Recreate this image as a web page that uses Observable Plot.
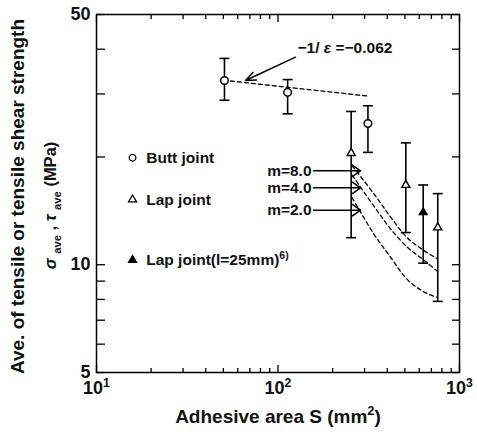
<!DOCTYPE html>
<html><head><meta charset="utf-8">
<script src="https://cdn.jsdelivr.net/npm/d3@7"></script>
<script src="https://cdn.jsdelivr.net/npm/@observablehq/plot@0.6"></script>
<style>
body{margin:0;background:#fff;}
#chart svg{font-family:"Liberation Sans",Arial,sans-serif;font-weight:bold;}
</style></head><body><div id="chart"></div>
<script>
// Butt joint (open circles)
const buttS = [50.7, 113, 313];
const buttMean = [32.7, 30.3, 24.8];
const buttLow = [28.8, 26.4, 20.6];
const buttHigh = [37.7, 32.9, 27.8];
// Lap joint (open triangles)
const lapS = [253, 506, 759];
const lapMean = [20.5, 16.7, 12.7];
const lapLow = [11.9, 12.3, 7.9];
const lapHigh = [26.8, 21.9, 15.8];
// Lap joint l=25mm (filled triangle)
const lap25S = [631];
const lap25Mean = [14.0];
const lap25Low = [10.1];
const lap25High = [16.7];
// fitted line for butt joints (slope -1/eps = -0.062)
const fitS = [54.7, 310];
const fitY = [32.6, 29.6];
// predicted curves for lap joints
const curveS = [256, 337, 417, 515, 636, 754];
const curveM8 = [18.9, 15.8, 13.6, 11.9, 10.96, 10.4];
const curveM4 = [17.8, 14.6, 12.6, 11.2, 10.3, 9.6];
const curveM2 = [15.4, 12.2, 10.5, 9.1, 8.4, 8.1];
const mLabels = ["m=8.0", "m=4.0", "m=2.0"];
const mLabelY = [18.3, 16.4, 14.2];
// ticks
const xTickValues = [10, 100, 1000];
const xTickLabels = ["10^{1}", "10^{2}", "10^{3}"];
const xMinorTicks = [20, 30, 40, 50, 60, 70, 80, 90, 200, 300, 400, 500, 600, 700, 800, 900];
const yTickValues = [5, 10, 50];
const yTickLabels = ["5", "10", "50"];
const yAllTicks = [5, 6, 7, 8, 9, 10, 20, 30, 40, 50];
// legend
const legendLabels = ["Butt joint", "Lap joint", "Lap joint(l=25mm)^{6)}"];
const legendY = [19.9, 15.2, 10.3];
const legendSymbolX = 15.8, legendTextX = 18.8;
// annotation
const annText = "\u22121/ ~{\u03b5} =\u22120.062";

const pts = (S, M, L, H) => S.map((s, i) => ({s, m: M[i], lo: L[i], hi: H[i]}));
const butt = pts(buttS, buttMean, buttLow, buttHigh);
const lap = pts(lapS, lapMean, lapLow, lapHigh);
const lap25 = pts(lap25S, lap25Mean, lap25Low, lap25High);
const all = [...butt, ...lap, ...lap25];
const fit = fitS.map((s, i) => ({s, y: fitY[i]}));
const curves = [["m8", curveM8], ["m4", curveM4], ["m2", curveM2]]
  .flatMap(([k, ys]) => curveS.map((s, i) => ({k, s, y: ys[i]})));
const mArr = mLabels.map((t, i) => ({t, y: mLabelY[i], x1: 157, x2: 285}));
const legend = legendLabels.map((t, i) => ({t, y: legendY[i], i}));

const cap = {draw(ctx, size) { const w = Math.sqrt(size / Math.PI); ctx.moveTo(-w, 0); ctx.lineTo(w, 0); }};
const fmtX = d => xTickLabels[xTickValues.indexOf(d)];
const fmtY = d => yTickLabels[yTickValues.indexOf(d)];

const chart = Plot.plot({
  width: 477, height: 438,
  marginLeft: 96, marginRight: 18, marginTop: 14, marginBottom: 66,
  x: {type: "log", domain: [10, 1000]},
  y: {type: "log", domain: [5, 50]},
  style: {fontFamily: "'Liberation Sans', Arial, sans-serif", fontWeight: "bold", background: "#fff"},
  marks: [
    // ticks (inward)
    Plot.axisX({anchor: "bottom", ticks: xMinorTicks, tickSize: -4, tickFormat: () => "", label: null, strokeWidth: 1.3}),
    Plot.axisX({anchor: "top", ticks: xMinorTicks, tickSize: -4, tickFormat: () => "", label: null, strokeWidth: 1.3}),
    Plot.axisX({anchor: "bottom", ticks: xTickValues, tickSize: -7, tickFormat: () => "", label: null, strokeWidth: 1.3}),
    Plot.axisX({anchor: "top", ticks: xTickValues, tickSize: -7, tickFormat: () => "", label: null, strokeWidth: 1.3}),
    Plot.axisY({anchor: "left", ticks: yAllTicks, tickSize: -9, tickFormat: () => "", label: null, strokeWidth: 1.3}),
    Plot.axisY({anchor: "right", ticks: yAllTicks, tickSize: -8, tickFormat: () => "", label: null, strokeWidth: 1.3}),
    // tick labels
    Plot.axisX({anchor: "bottom", ticks: xTickValues, tickSize: 0, tickPadding: 9, tickFormat: fmtX, label: null, fontSize: 18, fill: "#111"}),
    Plot.axisY({anchor: "left", ticks: yTickValues, tickSize: 0, tickPadding: 6, tickFormat: fmtY, label: null, fontSize: 18, fill: "#111"}),
    Plot.frame({strokeWidth: 1.5}),
    // axis titles
    Plot.text(["Adhesive area S (mm^{2})"], {frameAnchor: "bottom", dy: 50, fontSize: 19, text: d => d, fill: "#111"}),
    Plot.text(["Ave. of tensile or tensile shear strength"], {frameAnchor: "left", textAnchor: "middle", dx: -79, dy: 3, rotate: -90, fontSize: 19, text: d => d, fill: "#111"}),
    Plot.text(["~{\u03c3} _{ave} , ~{\u03c4} _{ave} (MPa)"], {frameAnchor: "left", textAnchor: "middle", dx: -46, dy: 12, rotate: -90, fontSize: 16.5, text: d => d, fill: "#111"}),
    // error bars
    Plot.ruleX(all, {x: "s", y1: "lo", y2: "hi", strokeWidth: 1.6}),
    Plot.dot(all, {x: "s", y: "lo", symbol: cap, r: 5, stroke: "black", fill: "none", strokeWidth: 1.6}),
    Plot.dot(all, {x: "s", y: "hi", symbol: cap, r: 5, stroke: "black", fill: "none", strokeWidth: 1.6}),
    // dashed lines
    Plot.line(fit, {x: "s", y: "y", strokeDasharray: "4,3", strokeWidth: 1.3}),
    Plot.line(curves, {x: "s", y: "y", z: "k", curve: "catmull-rom", strokeDasharray: "4,3", strokeWidth: 1.3}),
    // symbols
    Plot.dot(butt, {x: "s", y: "m", r: 3.8, stroke: "black", fill: "white", strokeWidth: 1.5}),
    Plot.dot(lap, {x: "s", y: "m", symbol: "triangle", r: 3, stroke: "black", fill: "white", strokeWidth: 1.4}),
    Plot.dot(lap25, {x: "s", y: "m", symbol: "triangle", r: 3, stroke: "black", fill: "black", strokeWidth: 1.2}),
    // m arrows and labels
    Plot.arrow(mArr, {x1: "x1", x2: "x2", y1: "y", y2: "y", headLength: 10, headAngle: 70, strokeWidth: 1.5}),
    Plot.text(mArr, {x: "x1", y: "y", text: "t", textAnchor: "end", dx: -2, fontSize: 15.5, fill: "#111"}),
    // annotation
    Plot.arrow([0], {x1: 124.8, y1: 38.0, x2: 66.2, y2: 32.7, headLength: 11, headAngle: 45, strokeWidth: 1.5}),
    Plot.text([annText], {x: 128, y: 40.2, text: d => d, textAnchor: "start", fontSize: 15.5, fill: "#111"}),
    // legend
    Plot.dot(legend, {x: legendSymbolX, y: "y", r: d => d.i === 0 ? 3.3 : 2.7, symbol: d => d.i === 0 ? "circle" : "triangle",
      stroke: "black", fill: d => d.i === 2 ? "black" : "white", strokeWidth: 1.3}),
    Plot.text(legend, {x: legendTextX, y: "y", text: "t", textAnchor: "start", fontSize: 15.5, fill: "#111"})
  ]
});
document.getElementById("chart").appendChild(chart);

function richify(svg) {
  const ns = "http://www.w3.org/2000/svg";
  svg.querySelectorAll("text").forEach(el => {
    const s = el.textContent;
    if (!/[\^_~]\{/.test(s) || el.querySelector("tspan")) return;
    const fs = parseFloat(getComputedStyle(el).fontSize) || 12;
    el.textContent = "";
    let shift = 0;
    const push = (str, kind) => {
      if (!str) return;
      const t = document.createElementNS(ns, "tspan");
      const off = kind === "^" ? -0.42 * fs : kind === "_" ? 0.3 * fs : 0;
      if (off - shift !== 0) t.setAttribute("dy", off - shift);
      shift = off;
      if (kind === "^" || kind === "_") t.setAttribute("font-size", 0.68 * fs);
      if (kind === "~") t.setAttribute("font-style", "italic");
      t.textContent = str;
      el.appendChild(t);
    };
    const re = /([\^_~])\{([^}]*)\}/g;
    let last = 0, m;
    while ((m = re.exec(s))) { push(s.slice(last, m.index), ""); push(m[2], m[1]); last = re.lastIndex; }
    push(s.slice(last), "");
  });
}
richify(chart);
</script></body></html>
